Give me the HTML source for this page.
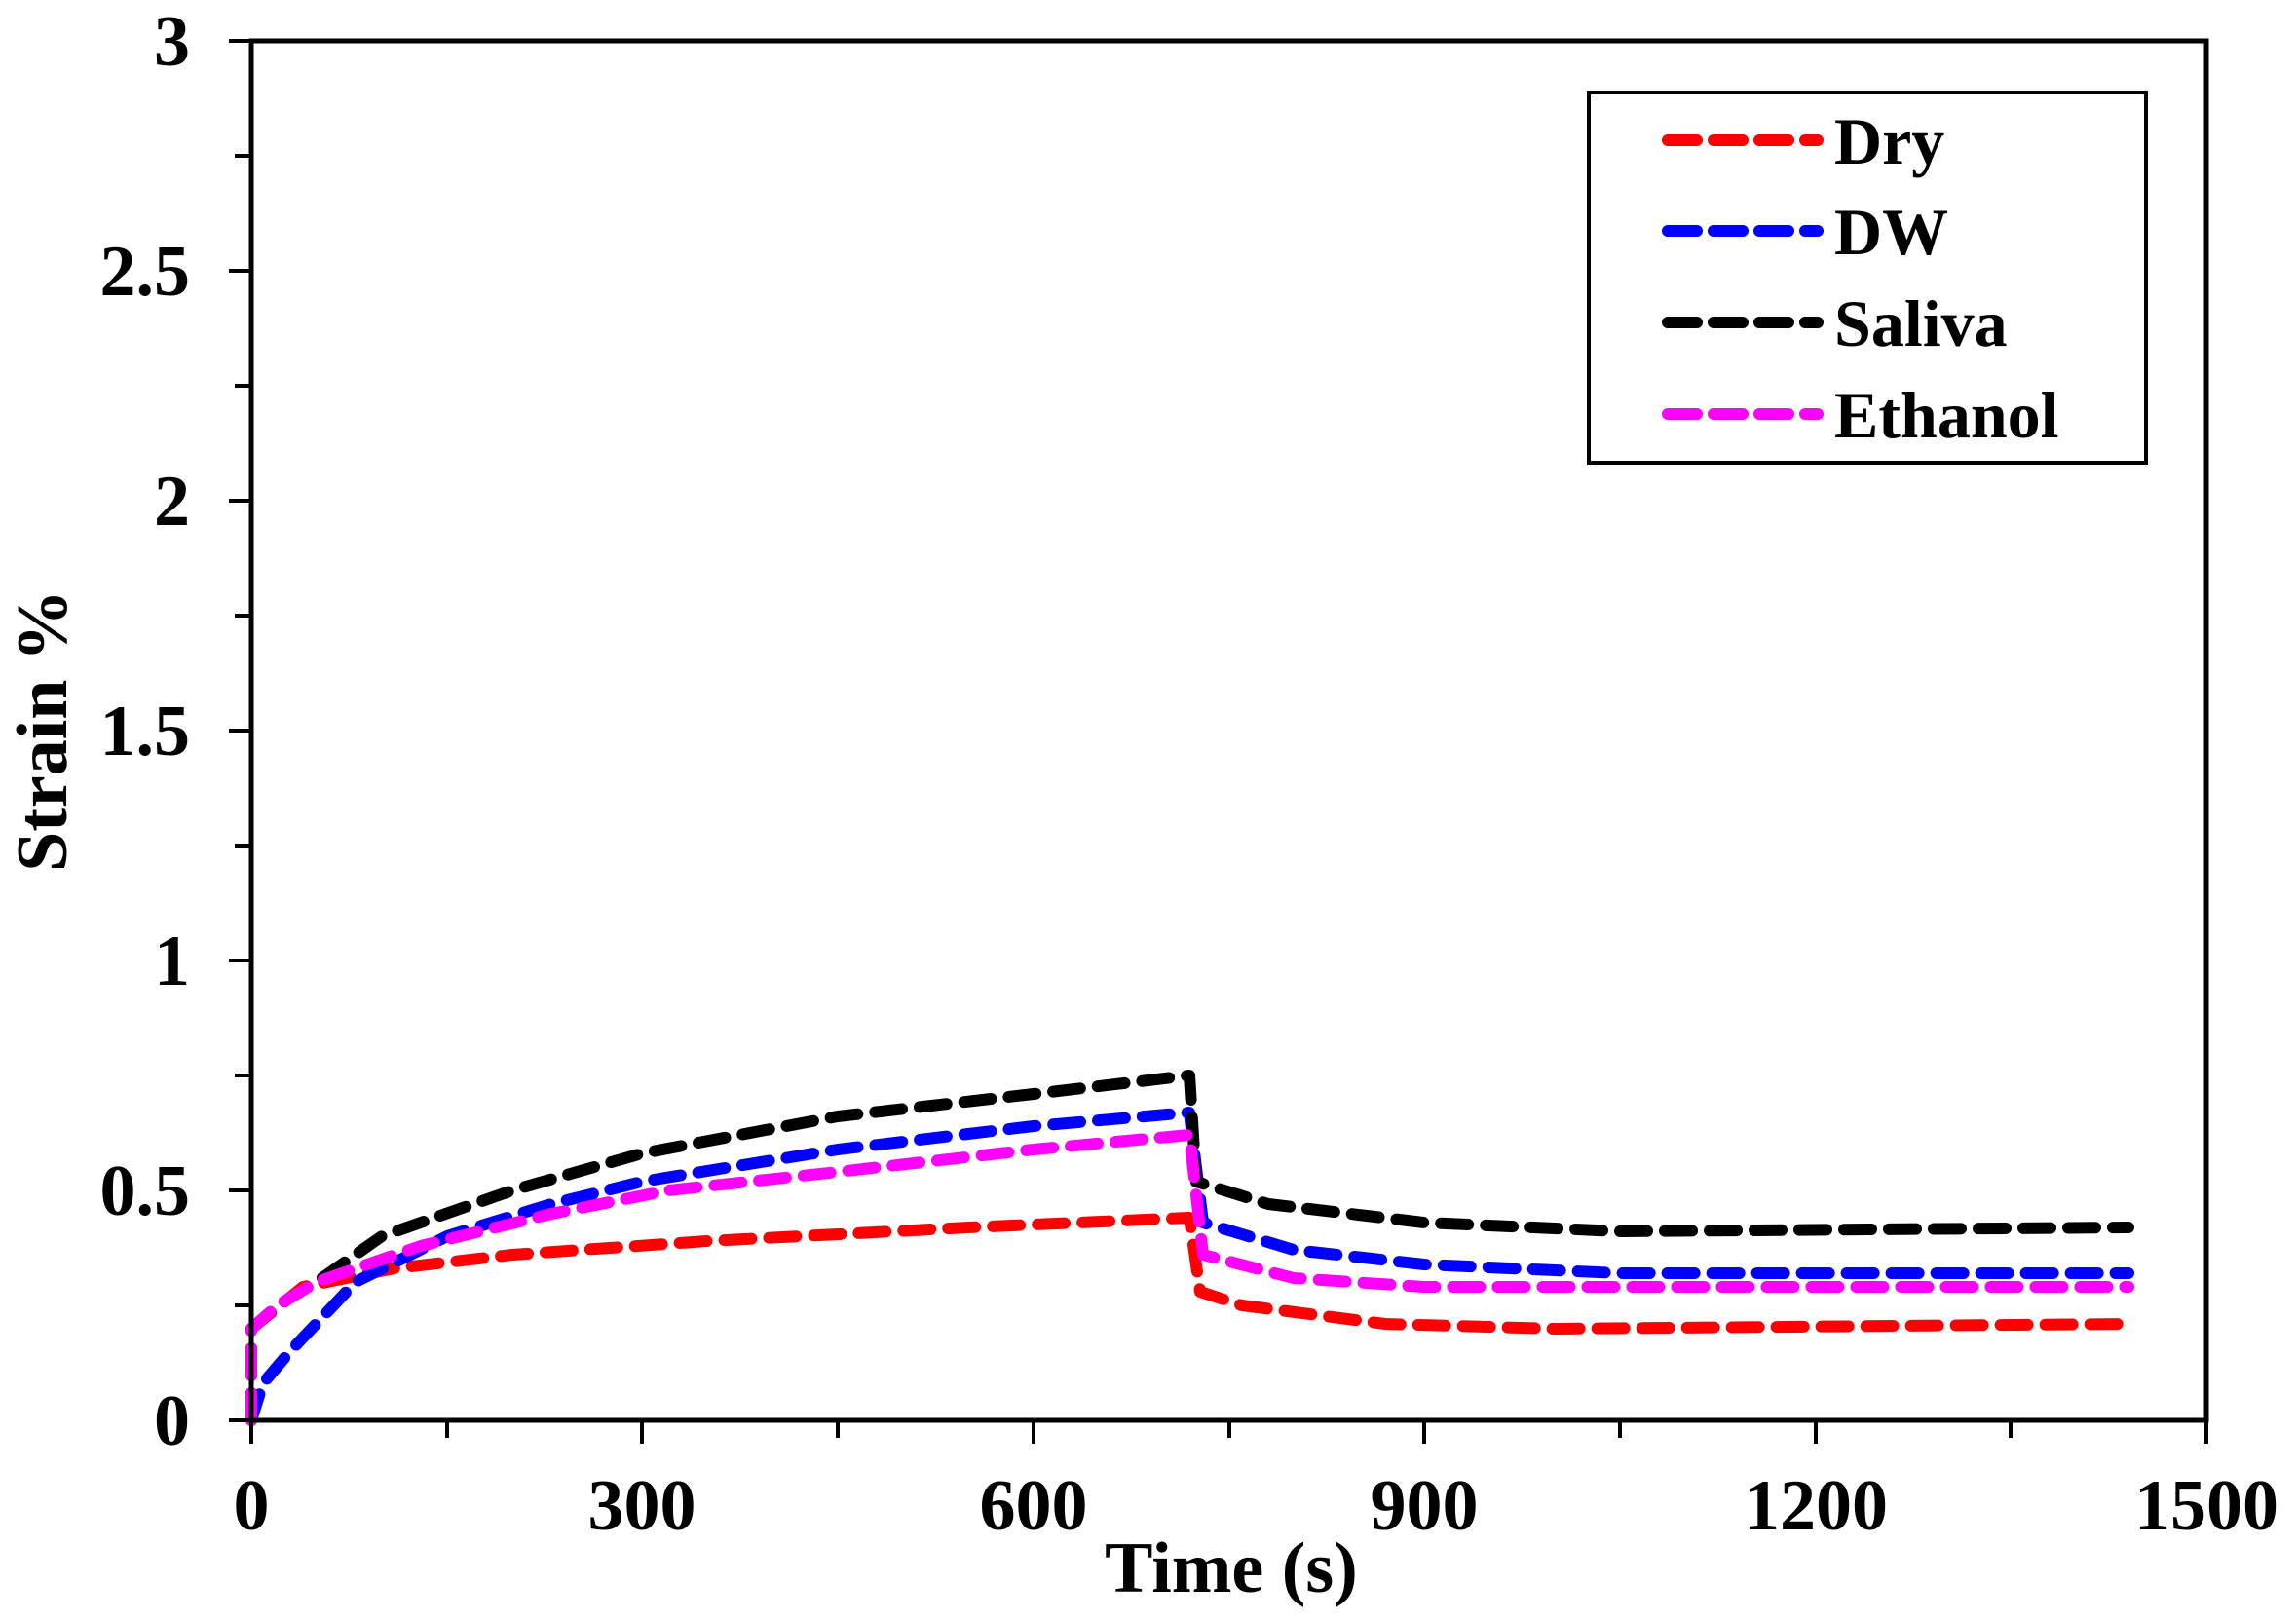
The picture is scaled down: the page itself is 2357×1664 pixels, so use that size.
<!DOCTYPE html>
<html><head><meta charset="utf-8"><style>
html,body{margin:0;padding:0;background:#fff;}
svg{display:block;}
text{font-family:"Liberation Serif",serif;font-weight:bold;fill:#000;}
</style></head><body>
<svg width="2357" height="1664" viewBox="0 0 2357 1664" xmlns="http://www.w3.org/2000/svg">
<rect width="2357" height="1664" fill="#fff"/>
<g fill="none" stroke-width="12" stroke-linecap="round" stroke-linejoin="round" stroke-dasharray="28 18">
<polyline stroke="#ff0000" points="258,1458 258,1364 311,1321 405,1302 526,1288 726,1274 994,1260 1221,1250 1232,1326 1275,1340 1422,1359 1596,1364 2185,1359"/>
<polyline stroke="#0000ff" points="258,1458 270,1420 298,1387 365,1316 459,1269 566,1236 659,1213 860,1180 1061,1156 1221,1142 1235,1255 1328,1283 1462,1298 1663,1307 2185,1307"/>
<polyline stroke="#000000" points="258,1458 258,1364 285,1340 325,1316 392,1269 526,1222 659,1184 860,1146 1061,1123 1221,1104 1228,1213 1302,1236 1462,1255 1663,1264 2185,1260"/>
<polyline stroke="#ff00ff" points="258,1458 258,1364 285,1340 325,1316 432,1279 566,1246 686,1222 860,1203 1061,1180 1221,1165 1235,1288 1328,1312 1462,1321 2185,1321"/>
</g>
<rect x="258" y="42" width="2007" height="1416" fill="none" stroke="#000" stroke-width="5"/>
<g stroke="#000" stroke-width="4">
<line x1="258" y1="1458" x2="258" y2="1482"/><line x1="459" y1="1458" x2="459" y2="1476"/>
<line x1="659" y1="1458" x2="659" y2="1482"/><line x1="860" y1="1458" x2="860" y2="1476"/>
<line x1="1061" y1="1458" x2="1061" y2="1482"/><line x1="1262" y1="1458" x2="1262" y2="1476"/>
<line x1="1462" y1="1458" x2="1462" y2="1482"/><line x1="1663" y1="1458" x2="1663" y2="1476"/>
<line x1="1864" y1="1458" x2="1864" y2="1482"/><line x1="2064" y1="1458" x2="2064" y2="1476"/>
<line x1="2265" y1="1458" x2="2265" y2="1482"/>
<line x1="235" y1="42" x2="258" y2="42"/><line x1="241" y1="160" x2="258" y2="160"/>
<line x1="235" y1="278" x2="258" y2="278"/><line x1="241" y1="396" x2="258" y2="396"/>
<line x1="235" y1="514" x2="258" y2="514"/><line x1="241" y1="632" x2="258" y2="632"/>
<line x1="235" y1="750" x2="258" y2="750"/><line x1="241" y1="868" x2="258" y2="868"/>
<line x1="235" y1="986" x2="258" y2="986"/><line x1="241" y1="1104" x2="258" y2="1104"/>
<line x1="235" y1="1222" x2="258" y2="1222"/><line x1="241" y1="1340" x2="258" y2="1340"/>
<line x1="235" y1="1458" x2="258" y2="1458"/>
</g>
<g font-size="74" text-anchor="end">
<text x="195" y="67">3</text><text x="195" y="303">2.5</text><text x="195" y="539">2</text>
<text x="195" y="775">1.5</text><text x="195" y="1011">1</text><text x="195" y="1247">0.5</text>
<text x="195" y="1483">0</text>
</g>
<g font-size="74" text-anchor="middle">
<text x="258" y="1570">0</text><text x="659" y="1570">300</text><text x="1061" y="1570">600</text>
<text x="1462" y="1570">900</text><text x="1864" y="1570">1200</text><text x="2265" y="1570">1500</text>
<text x="1264" y="1634">Time (s)</text>
<text transform="translate(68,750) rotate(-90)">Strain %</text>
</g>
<rect x="1631" y="95" width="572" height="380" fill="#fff" stroke="#000" stroke-width="4"/>
<g fill="none" stroke-width="12" stroke-linecap="round" stroke-dasharray="30 17">
<line x1="1712" y1="144" x2="1866" y2="144" stroke="#ff0000"/>
<line x1="1712" y1="237" x2="1866" y2="237" stroke="#0000ff"/>
<line x1="1712" y1="331" x2="1866" y2="331" stroke="#000"/>
<line x1="1712" y1="425" x2="1866" y2="425" stroke="#ff00ff"/>
</g>
<g font-size="68">
<text x="1883" y="168">Dry</text><text x="1883" y="261">DW</text>
<text x="1883" y="355">Saliva</text><text x="1883" y="449">Ethanol</text>
</g>
</svg>
</body></html>
